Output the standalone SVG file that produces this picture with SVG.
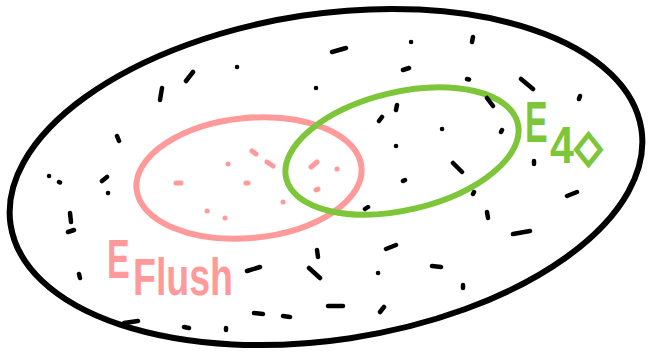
<svg xmlns="http://www.w3.org/2000/svg" width="651" height="352" viewBox="0 0 651 352">
<style>
.ring{fill:none;stroke-width:6}
.bk{fill:none;stroke:#000;stroke-width:4.5;stroke-linecap:round}
.pk{fill:none;stroke:#ff9a9a;stroke-width:5;stroke-linecap:round}
.lbl{font-family:"Liberation Sans","Open Sans",sans-serif;font-weight:bold}
</style>
<rect width="651" height="352" fill="#fff"/>
<g id="universe">
<ellipse class="ring" stroke="#000" cx="326" cy="177" rx="319" ry="163" transform="rotate(-8.6 326 177)"/>
</g>
<g id="flush">
<ellipse class="ring" stroke="#ff9a9a" cx="249" cy="178" rx="113" ry="60" transform="rotate(-5.6 249 178)"/>
<text class="lbl" fill="#ff9a9a" font-size="34" transform="translate(107 278) scale(1 1.65)">E</text>
<text class="lbl" fill="#ff9a9a" font-size="37.5" transform="translate(133 295) scale(1 1.38)">Flush</text>
</g>
<g id="four-diamond">
<ellipse class="ring" stroke="#7dc63a" cx="402" cy="151" rx="119" ry="59" transform="rotate(-13.3 402 151)"/>
<text class="lbl" fill="#7dc63a" font-size="34" transform="translate(525 142) scale(1 1.7)">E</text>
<text class="lbl" fill="#7dc63a" font-size="43" transform="translate(550 163) scale(1 1.2)">4</text>
<text fill="#7dc63a" stroke="#7dc63a" stroke-width="2.5" font-family="DejaVu Sans,sans-serif" font-size="35" transform="translate(575 161) scale(1 1.25)">◇</text>
</g>
<g id="points">
<path class="pk" d="M252 151L256 154M228 164l0.1 0M267 162L273 166M176 183L181 183M246 183L248 183M283 202l0.1 0M207 211l0.1 0M225 218l0.1 0M311 167L317 162M337 169l0.1 0M316 190L318 189"/>
<path class="bk" d="M186 81L193 72M237 67l0.1 0M162 88L160 100M117 136L119 141M316 88l0.1 0M49 176l0.1 0M59 182l1 0.5M102 181L107 177M108 193l0.1 0M70 213L71 222M68 232L74 230M79 274L80 278M124 323L138 321M184 327L189 328M226 328L226 330M247 271L260 267M317 250L318 257M309 268L320 278M254 313L263 314M283 316L290 317M328 306L343 306M332 52L346 48M411 42l0.1 0M473 37L472 42M403 70L409 68M467 79L469 79.5M521 79L533 89M580 96L579 99M487 98L493 106M397 105L396 110M382 117L379 121M442 129l0.1 0M502 130L501 132M396 146l0.1 0M453 163L462 172M534 161L534 164M403 181L405 180M474 192L473 194M365 209L368 207M567 196L577 192M487 212L488 218M513 234L530 231M386 249L396 245M432 266L441 267M378 273l0.1 0M463 285L463 288M380 312L384 307"/>
</g>
</svg>
